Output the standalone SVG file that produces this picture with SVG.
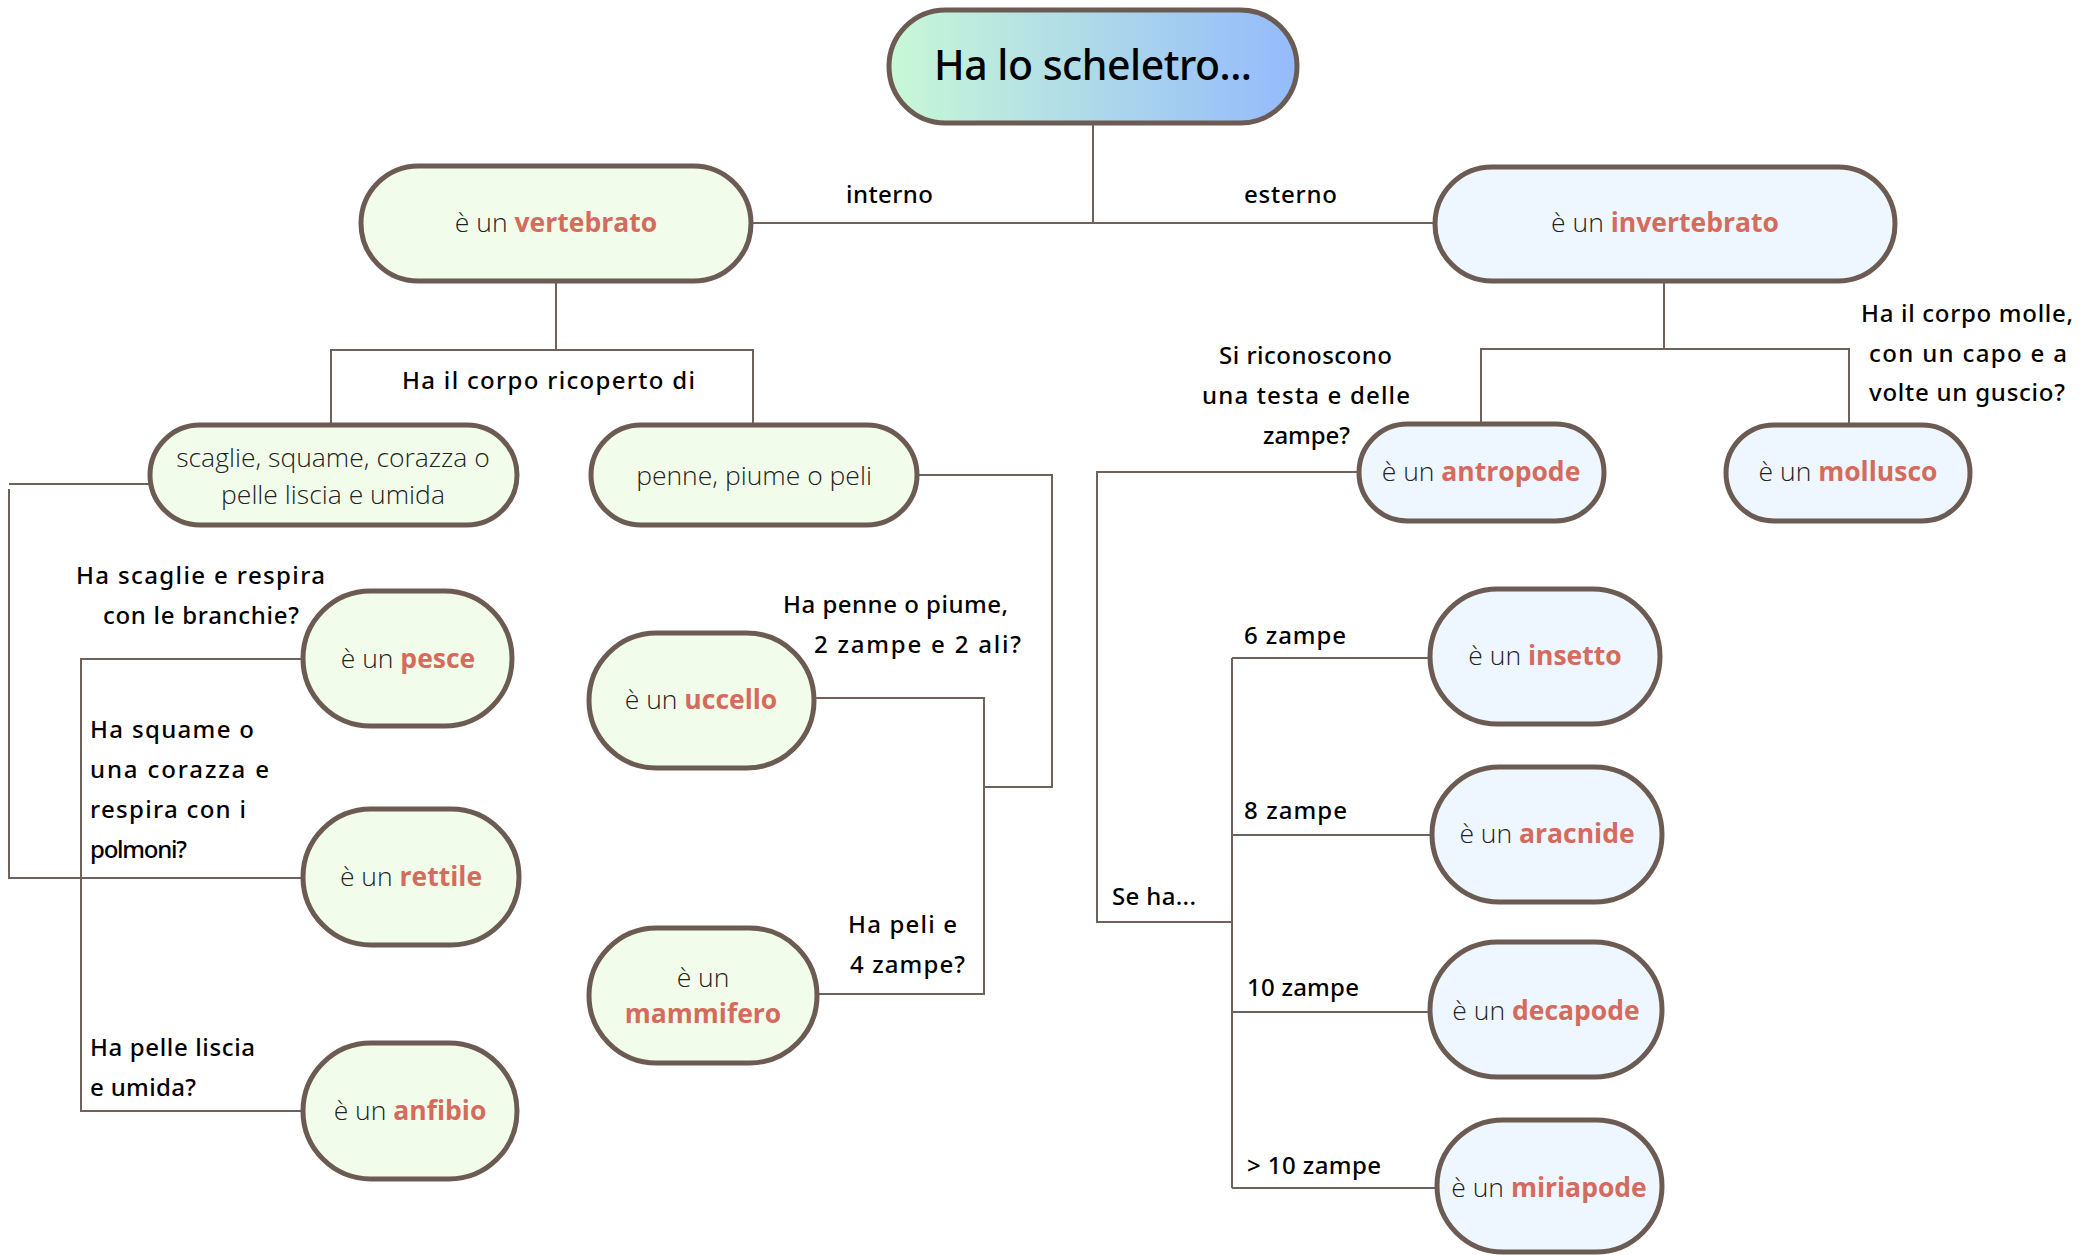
<svg xmlns="http://www.w3.org/2000/svg" width="2096" height="1255" viewBox="0 0 2096 1255">
<defs>
<linearGradient id="grad" x1="0" x2="1" y1="0" y2="0">
<stop offset="0" stop-color="#c8f8d6"/>
<stop offset="1" stop-color="#94bafc"/>
</linearGradient>
<style>
.n{stroke:#6b5b53;stroke-width:5}
.g{fill:#f1fdea}
.b{fill:#eef6ff}
.t{font-family:"Open Sans","Noto Sans",sans-serif;font-size:26.5px;fill:#222;text-anchor:middle;font-weight:300}
.r{fill:#d46b5c;font-weight:700}
.l{font-family:"Noto Sans","Open Sans",sans-serif;font-size:24px;fill:#000;font-weight:500}
.c{fill:none;stroke:#6f625b;stroke-width:2}
</style>
</defs>
<rect width="2096" height="1255" fill="#ffffff"/>
<g id="connectors">
<path class="c" d="M1093,123 V223"/>
<path class="c" d="M750,223 H1435"/>
<path class="c" d="M556,281 V350"/>
<path class="c" d="M331,425 V350 H753 V425"/>
<path class="c" d="M1664,282 V349"/>
<path class="c" d="M1481,424 V349 H1849 V425"/>
<path class="c" d="M150,484 H9"/>
<path class="c" d="M9,489 V878 H303"/>
<path class="c" d="M303,659 H81 V1111 H303"/>
<path class="c" d="M917,475 H1052 V787 H984"/>
<path class="c" d="M814,698 H984 V994 H817"/>
<path class="c" d="M1359,472 H1097 V922 H1232"/>
<path class="c" d="M1232,658 V1188"/>
<path class="c" d="M1232,658 H1430"/>
<path class="c" d="M1232,835 H1432"/>
<path class="c" d="M1232,1012 H1430"/>
<path class="c" d="M1232,1188 H1437"/>
</g>
<g id="labels">
<text class="l" x="846" y="203" textLength="87">interno</text>
<text class="l" x="1244" y="203" textLength="93">esterno</text>
<text class="l" x="402" y="389" textLength="293">Ha il corpo ricoperto di</text>
<text class="l" x="76" y="584" textLength="249">Ha scaglie e respira</text>
<text class="l" x="103" y="624" textLength="196">con le branchie?</text>
<text class="l" x="90" y="738" textLength="164">Ha squame o</text>
<text class="l" x="90" y="778" textLength="179">una corazza e</text>
<text class="l" x="90" y="818" textLength="156">respira con i</text>
<text class="l" x="90" y="858" textLength="97">polmoni?</text>
<text class="l" x="90" y="1056" textLength="165">Ha pelle liscia</text>
<text class="l" x="90" y="1096" textLength="106">e umida?</text>
<text class="l" x="783" y="613" textLength="225">Ha penne o piume,</text>
<text class="l" x="814" y="653" textLength="207">2 zampe e 2 ali?</text>
<text class="l" x="848" y="933" textLength="109">Ha peli e</text>
<text class="l" x="850" y="973" textLength="115">4 zampe?</text>
<text class="l" x="1219" y="364" textLength="173">Si riconoscono</text>
<text class="l" x="1202" y="404" textLength="208">una testa e delle</text>
<text class="l" x="1263" y="444" textLength="87">zampe?</text>
<text class="l" x="1861" y="322" textLength="212">Ha il corpo molle,</text>
<text class="l" x="1869" y="362" textLength="198">con un capo e a</text>
<text class="l" x="1869" y="401" textLength="196">volte un guscio?</text>
<text class="l" x="1244" y="644" textLength="102">6 zampe</text>
<text class="l" x="1244" y="819" textLength="103">8 zampe</text>
<text class="l" x="1247" y="996" textLength="112">10 zampe</text>
<text class="l" x="1247" y="1174" textLength="134">&gt; 10 zampe</text>
<text class="l" x="1112" y="905" textLength="84">Se ha...</text>
</g>
<g id="root">
<rect class="n" x="889" y="10" width="408" height="113" rx="56.5" fill="url(#grad)"/>
<text x="1093" y="80" font-family="Noto Sans, sans-serif" font-size="41" font-weight="500" text-anchor="middle" fill="#000" textLength="318">Ha lo scheletro...</text>
</g>
<g id="vertebrato">
<rect class="n g" x="361" y="166" width="390" height="115" rx="57.5"/>
<text class="t" x="556" y="232">è un <tspan class="r">vertebrato</tspan></text>
</g>
<g id="invertebrato">
<rect class="n b" x="1435" y="167" width="460" height="114" rx="57"/>
<text class="t" x="1665" y="232">è un <tspan class="r">invertebrato</tspan></text>
</g>
<g id="scaglie">
<rect class="n g" x="150" y="425" width="367" height="100" rx="50"/>
<text class="t" x="333" y="467">scaglie, squame, corazza o</text>
<text class="t" x="333" y="504">pelle liscia e umida</text>
</g>
<g id="penne">
<rect class="n g" x="591" y="425" width="326" height="100" rx="50"/>
<text class="t" x="754" y="485">penne, piume o peli</text>
</g>
<g id="pesce">
<rect class="n g" x="303" y="591" width="209" height="135" rx="67.5"/>
<text class="t" x="408" y="668">è un <tspan class="r">pesce</tspan></text>
</g>
<g id="rettile">
<rect class="n g" x="303" y="809" width="216" height="136" rx="68"/>
<text class="t" x="411" y="886">è un <tspan class="r">rettile</tspan></text>
</g>
<g id="anfibio">
<rect class="n g" x="303" y="1043" width="214" height="136" rx="68"/>
<text class="t" x="410" y="1120">è un <tspan class="r">anfibio</tspan></text>
</g>
<g id="uccello">
<rect class="n g" x="589" y="633" width="225" height="135" rx="67.5"/>
<text class="t" x="701" y="709">è un <tspan class="r">uccello</tspan></text>
</g>
<g id="mammifero">
<rect class="n g" x="589" y="928" width="228" height="135" rx="67.5"/>
<text class="t" x="703" y="987">è un</text>
<text class="t r" x="703" y="1023">mammifero</text>
</g>
<g id="antropode">
<rect class="n b" x="1359" y="424" width="245" height="97" rx="48.5"/>
<text class="t" x="1481" y="481">è un <tspan class="r">antropode</tspan></text>
</g>
<g id="mollusco">
<rect class="n b" x="1726" y="425" width="244" height="96" rx="48"/>
<text class="t" x="1848" y="481">è un <tspan class="r">mollusco</tspan></text>
</g>
<g id="insetto">
<rect class="n b" x="1430" y="589" width="230" height="135" rx="67.5"/>
<text class="t" x="1545" y="665">è un <tspan class="r">insetto</tspan></text>
</g>
<g id="aracnide">
<rect class="n b" x="1432" y="767" width="230" height="135" rx="67.5"/>
<text class="t" x="1547" y="843">è un <tspan class="r">aracnide</tspan></text>
</g>
<g id="decapode">
<rect class="n b" x="1430" y="942" width="232" height="135" rx="67.5"/>
<text class="t" x="1546" y="1020">è un <tspan class="r">decapode</tspan></text>
</g>
<g id="miriapode">
<rect class="n b" x="1437" y="1120" width="225" height="132" rx="66"/>
<text class="t" x="1549" y="1197">è un <tspan class="r">miriapode</tspan></text>
</g>
</svg>
